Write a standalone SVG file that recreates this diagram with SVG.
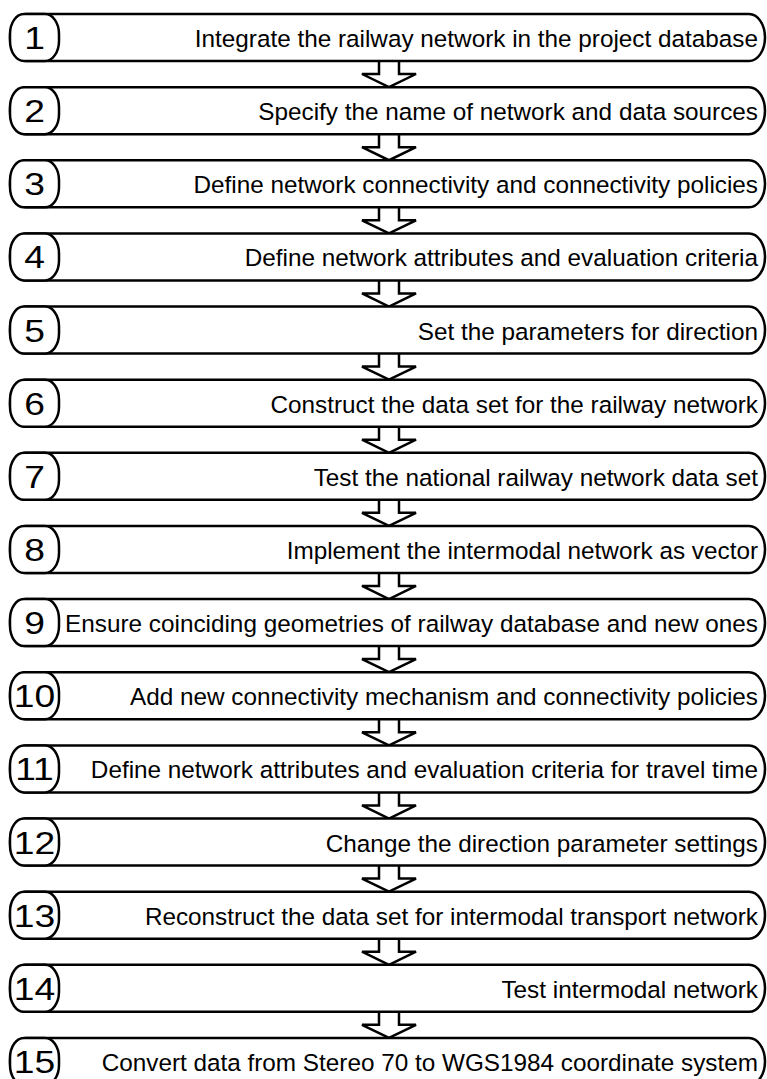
<svg xmlns="http://www.w3.org/2000/svg" xmlns:xlink="http://www.w3.org/1999/xlink" width="767" height="1079" viewBox="0 0 767 1079">
<style>
.box{fill:#fff;stroke:#000;stroke-width:2.5}
.num{fill:#fff;stroke:#000;stroke-width:2.5}
.lbl{font-family:"Liberation Sans",Arial,sans-serif;font-size:24.3px;fill:#000;text-anchor:end}
.n{font-family:"Liberation Sans",Arial,sans-serif;font-size:31px;fill:#000;text-anchor:middle}
.arr{fill:#fff;stroke:#000;stroke-width:2.5;stroke-linejoin:miter}
</style>
<defs>
<path id="arrow" class="arr" d="M379,0 V13 H362 L389,26.1 L416,13 H399 V0"/>
</defs>
<rect width="767" height="1079" fill="#fff"/>
<g id="connectors">
<use xlink:href="#arrow" y="61"/>
<use xlink:href="#arrow" y="134.14"/>
<use xlink:href="#arrow" y="207.28"/>
<use xlink:href="#arrow" y="280.42"/>
<use xlink:href="#arrow" y="353.56"/>
<use xlink:href="#arrow" y="426.7"/>
<use xlink:href="#arrow" y="499.84"/>
<use xlink:href="#arrow" y="572.98"/>
<use xlink:href="#arrow" y="646.12"/>
<use xlink:href="#arrow" y="719.26"/>
<use xlink:href="#arrow" y="792.4"/>
<use xlink:href="#arrow" y="865.54"/>
<use xlink:href="#arrow" y="938.68"/>
<use xlink:href="#arrow" y="1011.82"/>
</g>
<g id="step1" transform="translate(0,14)"><rect class="box" x="10" y="0" width="755" height="47" rx="16" ry="23.5"/><rect class="num" x="10" y="0" width="49" height="47" rx="14" ry="20"/><text class="n" transform="translate(34.5,35) scale(1.2,1)">1</text><text class="lbl" x="758" y="33">Integrate the railway network in the project database</text></g>
<g id="step2" transform="translate(0,87.14)"><rect class="box" x="10" y="0" width="755" height="47" rx="16" ry="23.5"/><rect class="num" x="10" y="0" width="49" height="47" rx="14" ry="20"/><text class="n" transform="translate(34.5,35) scale(1.2,1)">2</text><text class="lbl" x="758" y="33">Specify the name of network and data sources</text></g>
<g id="step3" transform="translate(0,160.28)"><rect class="box" x="10" y="0" width="755" height="47" rx="16" ry="23.5"/><rect class="num" x="10" y="0" width="49" height="47" rx="14" ry="20"/><text class="n" transform="translate(34.5,35) scale(1.2,1)">3</text><text class="lbl" x="758" y="33">Define network connectivity and connectivity policies</text></g>
<g id="step4" transform="translate(0,233.42)"><rect class="box" x="10" y="0" width="755" height="47" rx="16" ry="23.5"/><rect class="num" x="10" y="0" width="49" height="47" rx="14" ry="20"/><text class="n" transform="translate(34.5,35) scale(1.2,1)">4</text><text class="lbl" x="758" y="33">Define network attributes and evaluation criteria</text></g>
<g id="step5" transform="translate(0,306.56)"><rect class="box" x="10" y="0" width="755" height="47" rx="16" ry="23.5"/><rect class="num" x="10" y="0" width="49" height="47" rx="14" ry="20"/><text class="n" transform="translate(34.5,35) scale(1.2,1)">5</text><text class="lbl" x="758" y="33">Set the parameters for direction</text></g>
<g id="step6" transform="translate(0,379.7)"><rect class="box" x="10" y="0" width="755" height="47" rx="16" ry="23.5"/><rect class="num" x="10" y="0" width="49" height="47" rx="14" ry="20"/><text class="n" transform="translate(34.5,35) scale(1.2,1)">6</text><text class="lbl" x="758" y="33">Construct the data set for the railway network</text></g>
<g id="step7" transform="translate(0,452.84)"><rect class="box" x="10" y="0" width="755" height="47" rx="16" ry="23.5"/><rect class="num" x="10" y="0" width="49" height="47" rx="14" ry="20"/><text class="n" transform="translate(34.5,35) scale(1.2,1)">7</text><text class="lbl" x="758" y="33">Test the national railway network data set</text></g>
<g id="step8" transform="translate(0,525.98)"><rect class="box" x="10" y="0" width="755" height="47" rx="16" ry="23.5"/><rect class="num" x="10" y="0" width="49" height="47" rx="14" ry="20"/><text class="n" transform="translate(34.5,35) scale(1.2,1)">8</text><text class="lbl" x="758" y="33">Implement the intermodal network as vector</text></g>
<g id="step9" transform="translate(0,599.12)"><rect class="box" x="10" y="0" width="755" height="47" rx="16" ry="23.5"/><rect class="num" x="10" y="0" width="49" height="47" rx="14" ry="20"/><text class="n" transform="translate(34.5,35) scale(1.2,1)">9</text><text class="lbl" x="758" y="33">Ensure coinciding geometries of railway database and new ones</text></g>
<g id="step10" transform="translate(0,672.26)"><rect class="box" x="10" y="0" width="755" height="47" rx="16" ry="23.5"/><rect class="num" x="10" y="0" width="49" height="47" rx="14" ry="20"/><text class="n" transform="translate(34.5,35) scale(1.2,1)">10</text><text class="lbl" x="758" y="33">Add new connectivity mechanism and connectivity policies</text></g>
<g id="step11" transform="translate(0,745.4)"><rect class="box" x="10" y="0" width="755" height="47" rx="16" ry="23.5"/><rect class="num" x="10" y="0" width="49" height="47" rx="14" ry="20"/><text class="n" transform="translate(34.5,35) scale(1.2,1)">11</text><text class="lbl" x="758" y="33">Define network attributes and evaluation criteria for travel time</text></g>
<g id="step12" transform="translate(0,818.54)"><rect class="box" x="10" y="0" width="755" height="47" rx="16" ry="23.5"/><rect class="num" x="10" y="0" width="49" height="47" rx="14" ry="20"/><text class="n" transform="translate(34.5,35) scale(1.2,1)">12</text><text class="lbl" x="758" y="33">Change the direction parameter settings</text></g>
<g id="step13" transform="translate(0,891.68)"><rect class="box" x="10" y="0" width="755" height="47" rx="16" ry="23.5"/><rect class="num" x="10" y="0" width="49" height="47" rx="14" ry="20"/><text class="n" transform="translate(34.5,35) scale(1.2,1)">13</text><text class="lbl" x="758" y="33">Reconstruct the data set for intermodal transport network</text></g>
<g id="step14" transform="translate(0,964.82)"><rect class="box" x="10" y="0" width="755" height="47" rx="16" ry="23.5"/><rect class="num" x="10" y="0" width="49" height="47" rx="14" ry="20"/><text class="n" transform="translate(34.5,35) scale(1.2,1)">14</text><text class="lbl" x="758" y="33">Test intermodal network</text></g>
<g id="step15" transform="translate(0,1037.96)"><rect class="box" x="10" y="0" width="755" height="47" rx="16" ry="23.5"/><rect class="num" x="10" y="0" width="49" height="47" rx="14" ry="20"/><text class="n" transform="translate(34.5,35) scale(1.2,1)">15</text><text class="lbl" x="758" y="33">Convert data from Stereo 70 to WGS1984 coordinate system</text></g>
</svg>
